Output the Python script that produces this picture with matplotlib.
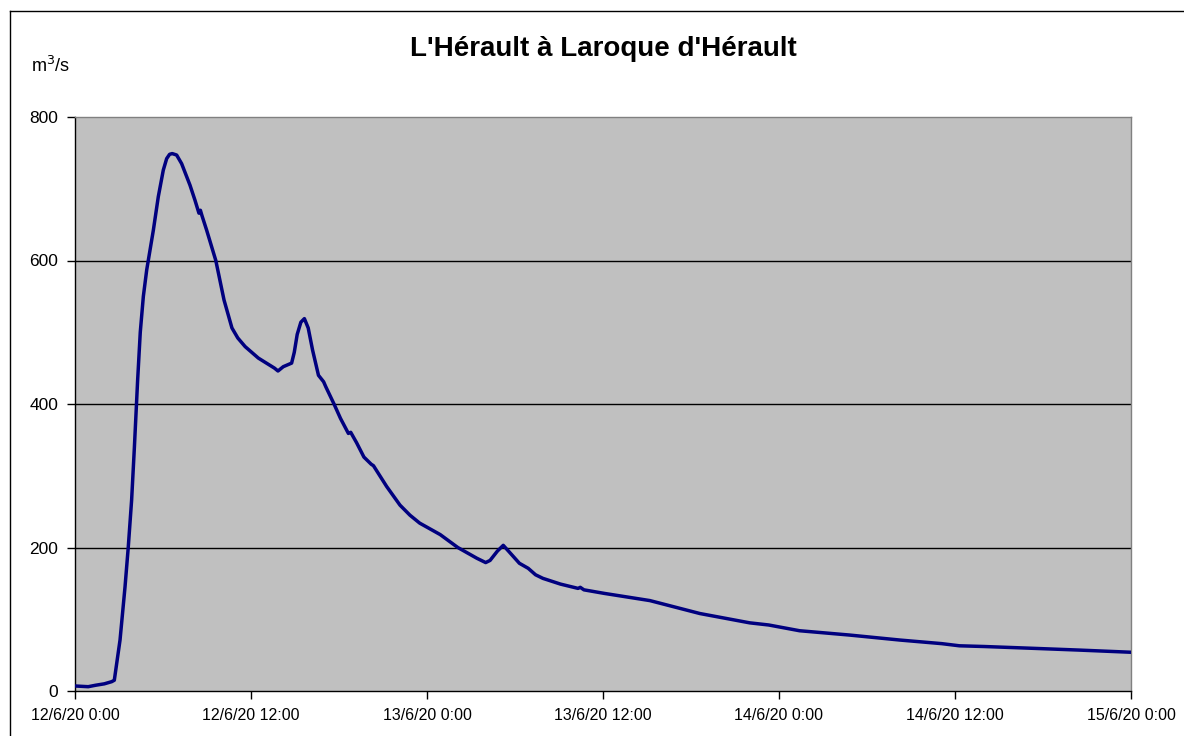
import matplotlib
matplotlib.use("Agg")
import matplotlib.pyplot as plt
from matplotlib.lines import Line2D

plt.rcParams['font.family'] = ['Liberation Sans', 'DejaVu Sans']

# Hours since 12/6/20 0:00
hours = [0.0, 0.9, 1.4, 2.0, 2.5, 2.68, 3.07, 3.41, 3.63, 3.86, 4.05, 4.27, 4.45, 4.66,
         4.89, 5.34, 5.68, 6.02, 6.25, 6.45, 6.63, 6.93, 7.27, 7.84, 8.18, 8.45, 8.55,
         8.65, 8.98, 9.6, 10.16, 10.7, 11.1, 11.6, 12.5, 13.6, 13.84, 14.2, 14.77,
         14.95, 15.15, 15.4, 15.64, 15.9, 16.2, 16.6, 16.95, 17.1, 17.66, 18.1, 18.64,
         18.8, 19.2, 19.7, 20.2, 20.35, 21.25, 22.16, 22.84, 23.5, 24.9, 26.1, 27.4,
         28.0, 28.3, 28.8, 29.2, 29.6, 30.3, 30.9, 31.4, 31.9, 33.1, 34.3, 34.45,
         34.7, 36.1, 39.2, 42.6, 46.0, 47.3, 49.4, 52.8, 56.25, 59.1, 60.3, 62.0,
         65.3, 68.5, 72.0]
flow = [7, 6, 8, 10, 13, 15, 71, 145, 200, 266, 340, 433, 500, 550,
        587, 642, 689, 726, 742, 748, 749, 747, 735, 705, 684, 666, 670,
        663, 642, 600, 545, 506, 492, 480, 464, 450, 446, 452, 457,
        472, 497, 514, 519, 506, 475, 440, 431, 424, 400, 380, 359,
        360.5, 346, 326, 316, 314, 285, 259, 245, 234, 218, 200, 185,
        179, 182, 195, 203, 194, 178, 171, 162, 157, 149, 143, 144.5,
        141, 136, 126, 108, 95, 92, 84, 78, 71, 66, 63, 62,
        59.5, 57, 54]

xtick_pos = [0, 12, 24, 36, 48, 60, 72]
xtick_labels = ['12/6/20 0:00', '12/6/20 12:00', '13/6/20 0:00', '13/6/20 12:00',
                '14/6/20 0:00', '14/6/20 12:00', '15/6/20 0:00']
ytick_pos = [0, 200, 400, 600, 800]

title = "L'Hérault à Laroque d'Hérault"
unit_label = r'm$^3$/s'

fig = plt.figure(figsize=(11.84, 7.36), dpi=100)
ax = fig.add_axes([75/1184, 1 - 691/736, (1131-75)/1184, (691-117)/736])
ax.set_facecolor('#c0c0c0')

ax.plot(hours, flow, color='#00007f', lw=2.5, solid_joinstyle='round',
        solid_capstyle='round', zorder=3)

ax.set_xlim(0, 72)
ax.set_ylim(0, 800)
ax.set_xticks(xtick_pos)
ax.set_xticklabels(xtick_labels)
ax.set_yticks(ytick_pos)
ax.tick_params(axis='both', direction='out', length=6, width=1, colors='black', pad=6)
ax.tick_params(axis='x', labelsize=11.5)
ax.tick_params(axis='y', labelsize=12.5, pad=6)

for v in [200, 400, 600]:
    ax.axhline(v, color='black', lw=1, zorder=2)

ax.spines['left'].set_color('black')
ax.spines['bottom'].set_color('black')
ax.spines['top'].set_color('#808080')
ax.spines['right'].set_color('#808080')
for s in ax.spines.values():
    s.set_linewidth(1)

fig.text(603/1184, 1 - 49/736, title, ha='center', va='center',
         fontsize=20, fontweight='bold')
fig.text(51/1184, 1 - 66/736, unit_label, ha='center', va='center', fontsize=13)

# outer frame lines (left and top)
fig.add_artist(Line2D([9.5/1184, 9.5/1184], [0, 1 - 10.5/736], transform=fig.transFigure,
                      color='black', lw=1))
fig.add_artist(Line2D([9.5/1184, 1], [1 - 10.5/736, 1 - 10.5/736], transform=fig.transFigure,
                      color='black', lw=1))

fig.savefig('out.png', dpi=100)
